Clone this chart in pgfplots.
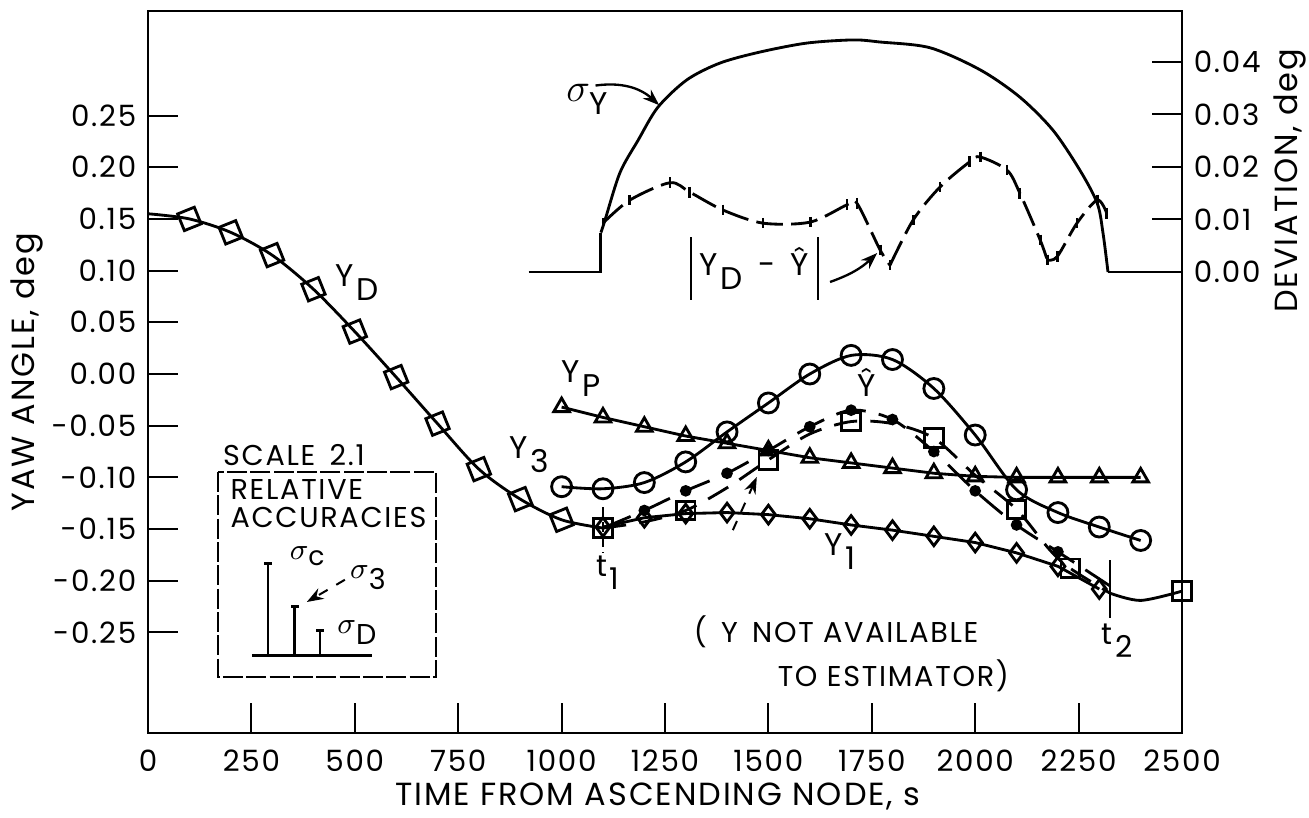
\documentclass[border=0pt]{standalone}
\usepackage{fontspec}
\setmainfont{Poppins}[LetterSpace=6]
\usepackage{pgfplots}
\pgfplotsset{compat=1.18}
\usetikzlibrary{arrows.meta}

% subscript set nearly full size, as in the drawing
\newcommand\sub[2]{#1\hspace{0.08em}\raisebox{-0.45em}{#2}}

\begin{document}
\begin{tikzpicture}[font=\fontsize{8.6}{10}\selectfont, >={Stealth[length=5pt,width=3.6pt]}]
\pgfplotsset{
  every axis/.append style={
    scale only axis, width=310.2pt, height=216.6pt,
    xmin=0, xmax=2500,
    tick align=inside, major tick length=9pt,
    tick style={line width=0.6pt, black},
    axis line style={line width=0.8pt},
    label style={font=\fontsize{9.6}{10}\selectfont},
    tick label style={font=\fontsize{8.8}{10}\selectfont},
    clip=false,
  },
}
\begin{axis}[
  ymin=-0.3472, ymax=0.3511,
  xtick pos=bottom, ytick pos=left,
  xtick={0,250,500,750,1000,1250,1500,1750,2000,2250,2500},
  xticklabels={0,250,500,750,1000,1250,1500,1750,2000,2250,2500},
  ytick={-0.25,-0.2,-0.15,-0.1,-0.05,0,0.05,0.1,0.15,0.2,0.25},
  yticklabels={-0.25,-0.20,-0.15,-0.10,-0.05,0.00,0.05,0.10,0.15,0.20,0.25},
  xticklabel style={yshift=-1.5pt},
  xlabel={TIME FROM ASCENDING NODE, s},
  ylabel={YAW ANGLE, deg},
  xlabel style={at={(axis description cs:0.493,-0.088)}, anchor=center},
  ylabel style={at={(axis description cs:-0.117,0.5)}, anchor=center},
]
\coordinate (SW) at (rel axis cs:0,0);
\coordinate (NE) at (rel axis cs:1,1);

% Y_D, before t1
\addplot[black, line width=0.85pt, smooth, mark=square, mark size=2.7pt,
  mark options={fill=white, rotate=22}, mark indices={2,...,11}] coordinates {
  (0,0.155) (100,0.150) (200,0.137) (300,0.115) (400,0.082) (500,0.041)
  (600,-0.003) (700,-0.048) (800,-0.092) (900,-0.121) (1000,-0.141) (1100,-0.149)};

% Y_P
\addplot[black, line width=0.85pt, mark=triangle, mark size=2.7pt,
  mark options={fill=white}] coordinates {
  (1000,-0.032) (1100,-0.042) (1200,-0.051) (1300,-0.060) (1400,-0.067)
  (1500,-0.074) (1600,-0.081) (1700,-0.086) (1800,-0.091) (1900,-0.096)
  (2000,-0.099) (2100,-0.100) (2200,-0.100) (2300,-0.100) (2400,-0.100)};

% Y_3
\addplot[black, line width=0.85pt, smooth, mark=o, mark size=3pt,
  mark options={fill=white}] coordinates {
  (1000,-0.109) (1100,-0.111) (1200,-0.105) (1300,-0.085) (1400,-0.056)
  (1500,-0.028) (1600,0.000) (1700,0.018) (1800,0.014) (1900,-0.014)
  (2000,-0.059) (2100,-0.112) (2200,-0.134) (2300,-0.148) (2400,-0.161)};

% Y_1
\addplot[black, line width=0.85pt, mark=diamond, mark size=2.8pt,
  mark options={fill=white}] coordinates {
  (1100,-0.148) (1200,-0.139) (1300,-0.135) (1400,-0.134) (1500,-0.136)
  (1600,-0.140) (1700,-0.146) (1800,-0.151) (1900,-0.157) (2000,-0.163)
  (2100,-0.173) (2200,-0.186) (2300,-0.208)};

% Y_D between t1 and t2 (not available to estimator)
\addplot[black, line width=0.85pt, smooth, dash pattern=on 7pt off 4pt, mark=square, mark size=2.8pt,
  mark options={fill=white, solid}, mark indices={1,3,5,7,9,11,13}] coordinates {
  (1100,-0.149) (1200,-0.143) (1300,-0.132) (1400,-0.110) (1500,-0.083)
  (1600,-0.058) (1700,-0.046) (1800,-0.048) (1900,-0.062) (2000,-0.098)
  (2100,-0.131) (2180,-0.170) (2230,-0.188) (2326,-0.212)};

% Y_D after t2
\addplot[black, line width=0.85pt, smooth, mark=square, mark size=2.8pt,
  mark options={fill=white}, mark indices={3}] coordinates {
  (2326,-0.212) (2400,-0.219) (2500,-0.210)};

% estimate Y hat
\addplot[black, line width=0.85pt, smooth, dash pattern=on 9pt off 4pt, mark=*, mark size=1.3pt,
  mark options={solid}, mark indices={2,...,12}] coordinates {
  (1100,-0.149) (1200,-0.132) (1300,-0.113) (1400,-0.096) (1500,-0.074)
  (1600,-0.051) (1700,-0.035) (1800,-0.044) (1900,-0.075) (2000,-0.113)
  (2100,-0.146) (2200,-0.172) (2326,-0.205)};

% labels on the curves
\node at (axis cs:505,0.088) {\fontsize{9.4}{10}\selectfont\sub{Y}{D}};
\node at (axis cs:1047,-0.004) {\fontsize{9.4}{10}\selectfont\sub{Y}{P}};
\node at (axis cs:921,-0.078) {\fontsize{9.4}{10}\selectfont\sub{Y}{3}};
\node at (axis cs:1738,-0.008) {\fontsize{9.4}{10}\selectfont\^{Y}};
\node at (axis cs:1673,-0.172) {\fontsize{9.4}{10}\selectfont\sub{Y}{1}};

% t1, t2
\draw[line width=0.6pt, dash pattern=on 3pt off 1.5pt] (axis cs:1100,-0.129) -- (axis cs:1100,-0.173);
\node at (axis cs:1112,-0.192) {\fontsize{9}{10}\selectfont\sub{t}{1}};
\draw[line width=0.6pt] (axis cs:2326,-0.180) -- (axis cs:2326,-0.236);
\node at (axis cs:2343,-0.258) {\fontsize{9}{10}\selectfont\sub{t}{2}};

% note on Y_D
\node[anchor=west, inner sep=0pt] at (axis cs:1318,-0.2495) {(\enspace Y\enspace NOT AVAILABLE};
\node[anchor=west, inner sep=0pt] at (axis cs:1521,-0.292) {TO ESTIMATOR)};
\draw[line width=0.6pt, dashed, ->] (axis cs:1414,-0.151) -- (axis cs:1472,-0.0996);

% deviation labels
\node at (axis cs:1062,0.266) {\fontsize{13}{13}\selectfont$\sigma$\raisebox{-0.3em}{\fontsize{9.4}{10}\selectfont Y}};
\draw[line width=0.7pt, ->] (axis cs:1082,0.279) to[bend left=25] (axis cs:1236,0.260);
\node at (axis cs:1466,0.1025) {\fontsize{9.4}{10}\selectfont\sub{Y}{D}\enspace-\enspace\^{Y}};
\draw[line width=0.8pt] (axis cs:1313,0.1325) -- (axis cs:1313,0.0716);
\draw[line width=0.8pt] (axis cs:1620,0.1325) -- (axis cs:1620,0.0716);
\draw[line width=0.7pt, ->] (axis cs:1649,0.089) to[bend right=12] (axis cs:1763,0.117);

% inset: relative accuracies
\node at (axis cs:353,-0.078) {SCALE\enspace 2.1};
\draw[line width=0.6pt, dash pattern=on 6pt off 1pt] (axis cs:169,-0.0948) rectangle (axis cs:696,-0.293);
\node[anchor=west, inner sep=0pt] at (axis cs:198,-0.112) {RELATIVE};
\node[anchor=west, inner sep=0pt] at (axis cs:198,-0.139) {ACCURACIES};
\draw[line width=0.8pt] (axis cs:251,-0.272) -- (axis cs:542,-0.272);
\draw[line width=0.8pt] (axis cs:290,-0.272) -- (axis cs:290,-0.183) (axis cs:281,-0.183) -- (axis cs:299,-0.183);
\draw[line width=0.8pt] (axis cs:355,-0.272) -- (axis cs:355,-0.225) (axis cs:346,-0.225) -- (axis cs:364,-0.225);
\draw[line width=0.8pt] (axis cs:416,-0.272) -- (axis cs:416,-0.248) (axis cs:407,-0.248) -- (axis cs:425,-0.248);
\node at (axis cs:385,-0.176) {$\sigma$\raisebox{-0.2em}{\fontsize{8}{9}\selectfont c}};
\node at (axis cs:532,-0.197) {$\sigma$\raisebox{-0.4em}{3}};
\node at (axis cs:505,-0.250) {$\sigma$\raisebox{-0.4em}{D}};
\draw[line width=0.6pt, dashed, ->] (axis cs:476,-0.199) -- (axis cs:384,-0.2205);
\end{axis}

\begin{axis}[
  ymin=-0.08781, ymax=0.04971,
  axis x line=none, axis y line*=right, ytick pos=right, xtick=\empty,
  ytick={0,0.01,0.02,0.03,0.04},
  yticklabels={0.00,0.01,0.02,0.03,0.04},
  ylabel={DEVIATION, deg},
  ylabel style={at={(axis description cs:1.1044,0.765)}, anchor=center},
]
% sigma_Y
\addplot[black, line width=0.85pt] coordinates {
  (920,0) (1095,0) (1095,0.0075)};
\addplot[black, line width=0.85pt, smooth] coordinates {
  (1095,0.0075) (1105,0.0099) (1141,0.0189) (1185,0.0251) (1233,0.0314)
  (1303,0.0366) (1383,0.0398) (1480,0.0419) (1593,0.0436) (1705,0.0442)
  (1770,0.0438) (1891,0.0427) (2012,0.0385) (2108,0.0333) (2188,0.0270)
  (2253,0.0194) (2295,0.0131) (2309,0.0074) (2321,0.0)};
\addplot[black, line width=0.85pt] coordinates {
  (2321,0.0) (2500,0)};

% |Y_D - Y hat|
\addplot[black, line width=0.85pt, smooth, dash pattern=on 8pt off 2.5pt, mark=|, mark size=1.6pt,
  mark options={solid}] coordinates {
  (1100,0.0093) (1165,0.0137) (1262,0.0170) (1310,0.0152) (1390,0.0118)
  (1487,0.0093) (1601,0.0095) (1690,0.0128) (1714,0.0131) (1770,0.0042)
  (1794,0.0013)};
\addplot[black, line width=0.85pt, smooth, dash pattern=on 8pt off 2.5pt, mark=|, mark size=1.6pt,
  mark options={solid}] coordinates {
  (1794,0.0013) (1850,0.0099) (1915,0.0162) (1987,0.0210) (2012,0.0219)
  (2077,0.0194) (2108,0.0150) (2157,0.0061) (2174,0.0023)};
\addplot[black, line width=0.85pt, smooth, dash pattern=on 8pt off 2.5pt, mark=|, mark size=1.6pt,
  mark options={solid}] coordinates {
  (2174,0.0023) (2198,0.0029) (2246,0.0093) (2295,0.0137) (2318,0.0112)};
\end{axis}

\pgfresetboundingbox
\path ([shift={(-44.4pt,-25.5pt)}]SW) rectangle ([shift={(38.1pt,3.3pt)}]NE);
\end{tikzpicture}
\end{document}
